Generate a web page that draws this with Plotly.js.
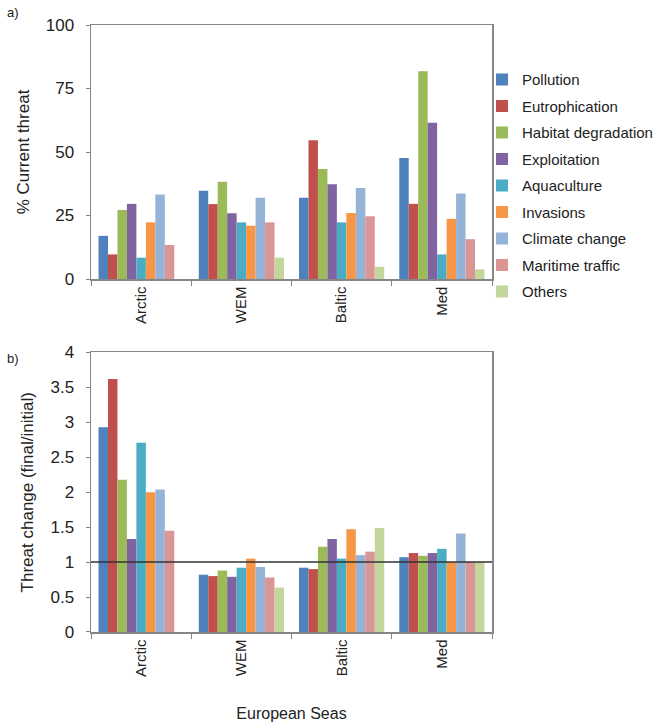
<!DOCTYPE html>
<html>
<head>
<meta charset="utf-8">
<script src="https://cdn.plot.ly/plotly-3.0.1.min.js"></script>
<style>
  html, body { margin: 0; padding: 0; background: #fff; }
  #chart { width: 663px; height: 728px; }
</style>
</head>
<body>
<div id="chart"></div>
<script>
// Categories and series
const seas = ["Arctic", "WEM", "Baltic", "Med"];
const threats = ["Pollution", "Eutrophication", "Habitat degradation", "Exploitation",
                 "Aquaculture", "Invasions", "Climate change", "Maritime traffic", "Others"];
const colors = ["#4F81BD", "#C0504D", "#9BBB59", "#8064A2", "#4BACC6",
                "#F79646", "#95B3D7", "#D99694", "#C3D69B"];

// a) % Current threat (per threat, values for Arctic, WEM, Baltic, Med)
const currentPollution      = [17.0, 34.8, 32.0, 47.6];
const currentEutrophication = [9.7, 29.5, 54.6, 29.6];
const currentHabitat        = [27.2, 38.3, 43.3, 81.8];
const currentExploitation   = [29.6, 25.9, 37.3, 61.5];
const currentAquaculture    = [8.4, 22.3, 22.3, 9.7];
const currentInvasions      = [22.3, 21.0, 26.0, 23.7];
const currentClimate        = [33.3, 32.0, 35.8, 33.7];
const currentMaritime       = [13.4, 22.3, 24.7, 15.7];
const currentOthers         = [null, 8.4, 4.8, 3.8];

// b) Threat change (final/initial)
const changePollution      = [2.93, 0.82, 0.92, 1.07];
const changeEutrophication = [3.62, 0.80, 0.90, 1.13];
const changeHabitat        = [2.18, 0.88, 1.22, 1.09];
const changeExploitation   = [1.33, 0.79, 1.33, 1.13];
const changeAquaculture    = [2.71, 0.92, 1.05, 1.19];
const changeInvasions      = [2.00, 1.05, 1.47, 1.00];
const changeClimate        = [2.04, 0.93, 1.10, 1.41];
const changeMaritime       = [1.45, 0.78, 1.15, 1.00];
const changeOthers         = [null, 0.635, 1.49, 1.00];

const baseline = 1;

const currentSeries = [currentPollution, currentEutrophication, currentHabitat, currentExploitation,
  currentAquaculture, currentInvasions, currentClimate, currentMaritime, currentOthers];
const changeSeries = [changePollution, changeEutrophication, changeHabitat, changeExploitation,
  changeAquaculture, changeInvasions, changeClimate, changeMaritime, changeOthers];

const traces = [];
threats.forEach((name, i) => {
  traces.push({
    type: "bar", name: name, x: seas, y: currentSeries[i],
    xaxis: "x", yaxis: "y",
    marker: { color: colors[i] },
    legendgroup: "g" + i, showlegend: true
  });
});
threats.forEach((name, i) => {
  traces.push({
    type: "bar", name: name, x: seas, y: changeSeries[i],
    xaxis: "x2", yaxis: "y2",
    marker: { color: colors[i] },
    legendgroup: "g" + i, showlegend: false
  });
});

const font = "Liberation Sans, Arial, sans-serif";
const axisColor = "#868686";

const xCommon = {
  type: "category",
  showline: true, linecolor: axisColor, linewidth: 1.5, mirror: true,
  ticks: "outside", ticklen: 5, tickcolor: axisColor, tickson: "boundaries",
  tickangle: -90,
  tickfont: { family: font, size: 15, color: "#222" },
  showgrid: false, zeroline: false, fixedrange: true
};
const yCommon = {
  showline: true, linecolor: axisColor, linewidth: 1.5, mirror: true,
  ticks: "outside", ticklen: 4, tickcolor: axisColor,
  tickfont: { family: font, size: 17, color: "#222" },
  ticklabelstandoff: 8,
  showgrid: false, zeroline: false, fixedrange: true
};

const layout = {
  width: 663, height: 728,
  margin: { l: 91, r: 171, t: 25, b: 96, autoexpand: false },
  paper_bgcolor: "#fff", plot_bgcolor: "#fff",
  barmode: "group", bargap: 0.15, bargroupgap: 0,
  showlegend: true,
  legend: {
    x: 0.975, xanchor: "left", y: 0.937, yanchor: "top",
    font: { family: font, size: 15, color: "#222" },
    tracegroupgap: 4, itemwidth: 30,
    bgcolor: "rgba(0,0,0,0)"
  },
  xaxis: Object.assign({}, xCommon, { anchor: "y", domain: [0, 1] }),
  yaxis: Object.assign({}, yCommon, {
    anchor: "x", domain: [0.5815, 1], range: [0, 100], tickvals: [0, 25, 50, 75, 100],
    title: { text: "% Current threat", font: { family: font, size: 17, color: "#222" }, standoff: 12 }
  }),
  xaxis2: Object.assign({}, xCommon, {
    anchor: "y2", domain: [0, 1],
    title: { text: "European Seas", font: { family: font, size: 16, color: "#222" }, standoff: 32 }
  }),
  yaxis2: Object.assign({}, yCommon, {
    anchor: "x2", domain: [0, 0.4605], range: [0, 4], dtick: 0.5,
    title: { text: "Threat change (final/initial)", font: { family: font, size: 17, color: "#222" }, standoff: 12 }
  }),
  shapes: [{
    type: "line", xref: "x2 domain", yref: "y2",
    x0: 0, x1: 1, y0: baseline, y1: baseline,
    line: { color: "#333", width: 1.5 }
  }],
  annotations: [
    { text: "a)", xref: "paper", yref: "paper", x: -0.215, y: 1.021, xanchor: "left", yanchor: "middle",
      showarrow: false, font: { family: font, size: 13, color: "#222" } },
    { text: "b)", xref: "paper", yref: "paper", x: -0.215, y: 0.451, xanchor: "left", yanchor: "middle",
      showarrow: false, font: { family: font, size: 13, color: "#222" } }
  ]
};

Plotly.newPlot("chart", traces, layout, { staticPlot: true, displayModeBar: false });
</script>
</body>
</html>
